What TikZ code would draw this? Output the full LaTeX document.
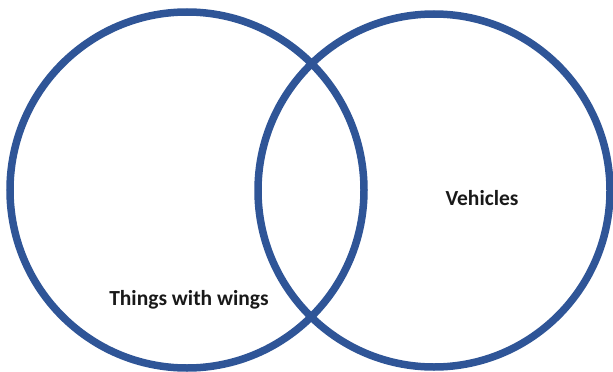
\documentclass[tikz,border=0pt]{standalone}
\usepackage{fontspec}
\setmainfont{Carlito}
\definecolor{vennblue}{RGB}{47,85,151}
\begin{document}
\begin{tikzpicture}[x=1pt,y=-1pt,
  ring/.style={draw=vennblue,line width=7.5pt},
  lbl/.style={font=\bfseries\fontsize{21.5}{24}\selectfont,text=black!90}]
\useasboundingbox (0,0) rectangle (613,372);
\draw[ring] (187,190) ellipse [x radius=177, y radius=178];
\draw[ring] (434,190.5) ellipse [x radius=176, y radius=176.5];
\node[lbl] (wings) at (189,300) {Things with wings};
\node[lbl] (veh) at (482,198) {Vehicles};
\end{tikzpicture}
\end{document}
